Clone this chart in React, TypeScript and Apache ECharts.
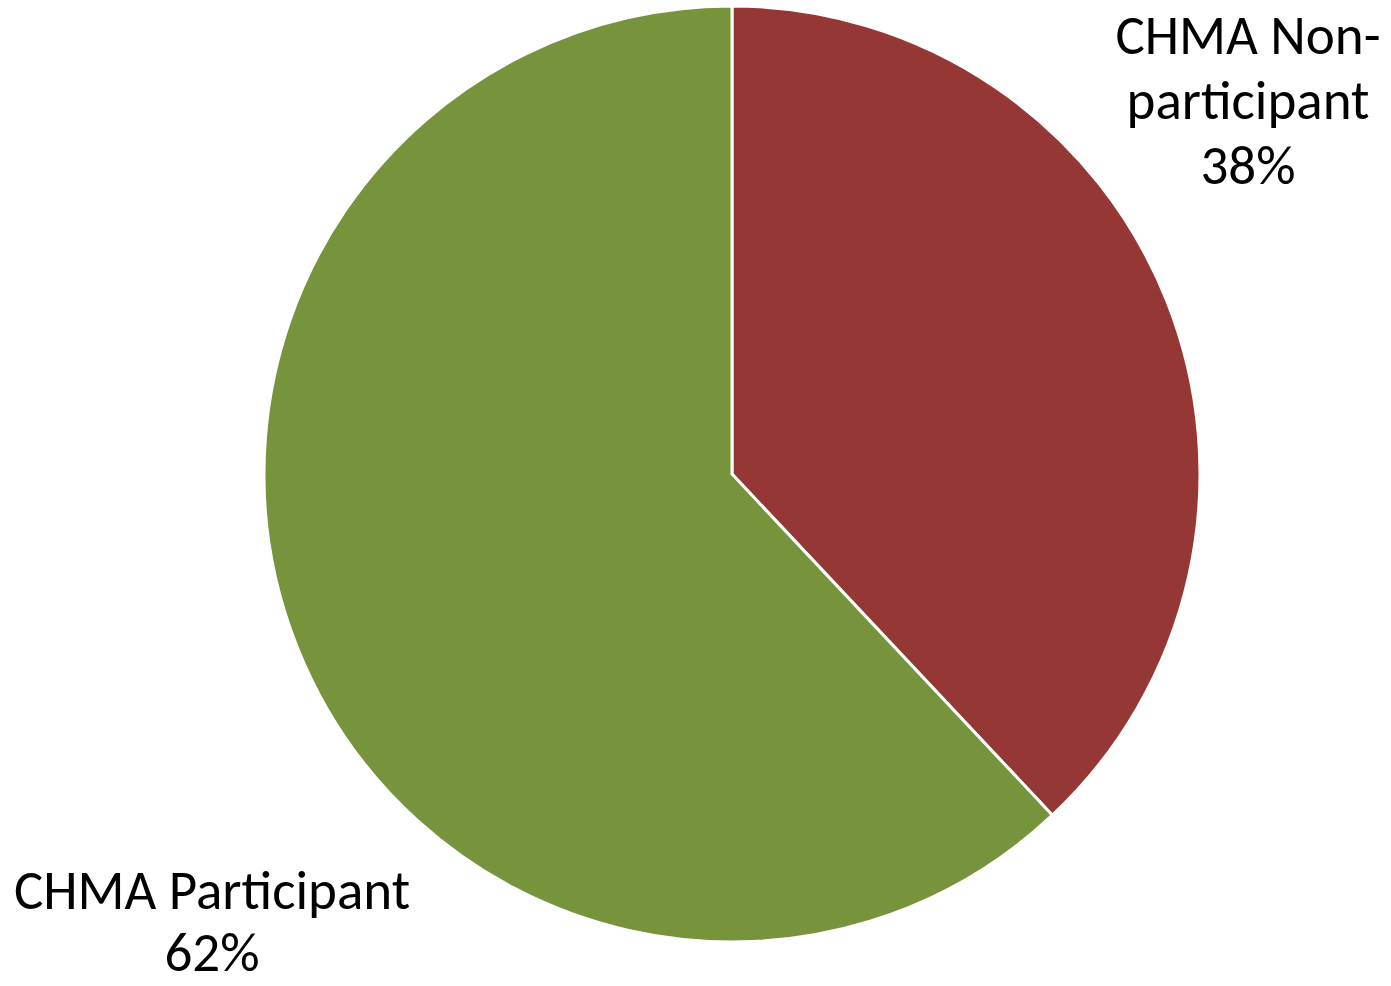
import React, { useEffect, useRef } from "react";
import * as echarts from "echarts";

const categories = ["CHMA Non-participant", "CHMA Participant"];
const values = [38, 62];
const colors = ["#953735", "#77933C"];

export default function App() {
  const ref = useRef<HTMLDivElement>(null);
  useEffect(() => {
    if (!ref.current) return;
    const chart = echarts.init(ref.current, null, { renderer: "svg" });
    const base = {
      fontFamily: "Carlito, Calibri, Lato, sans-serif",
      fontSize: 55,
      color: "#000000",
    };
    chart.setOption({
      animation: false,
      backgroundColor: "#ffffff",
      series: [
        {
          type: "pie",
          center: [732, 474],
          radius: [0, 468],
          startAngle: 90,
          clockwise: true,
          data: categories.map((c, i) => ({
            name: c,
            value: values[i],
            itemStyle: { color: colors[i] },
          })),
          itemStyle: { borderColor: "#ffffff", borderWidth: 3 },
          labelLine: { show: false },
          label: {
            show: true,
            position: "outside",
            overflow: "none",
            formatter: (p: any) => {
              const pct = Math.round(p.percent) + "%";
              if (p.name.indexOf("Non-") >= 0) {
                const parts = p.name.split("Non-");
                return `{s|${parts[0]}Non-}\n{t|${parts[1]}}\n{s|${pct}}`;
              }
              return `{t|${p.name}}\n{u|${pct}}`;
            },
            ...base,
            align: "center",
            rich: {
              s: { ...base, lineHeight: 50 },
              t: { ...base, lineHeight: 80 },
              u: { ...base, lineHeight: 44 },
            },
          },
          labelLayout: (params: any) => {
            if (params.dataIndex === 0) {
              return { x: 1248, y: 100, align: "center", verticalAlign: "middle" };
            }
            return { x: 212, y: 912, align: "center", verticalAlign: "middle" };
          },
        },
      ],
    });
    return () => chart.dispose();
  }, []);
  return (
    <div
      ref={ref}
      style={{ position: "absolute", left: 0, top: 0, width: 1391, height: 986 }}
    />
  );
}
